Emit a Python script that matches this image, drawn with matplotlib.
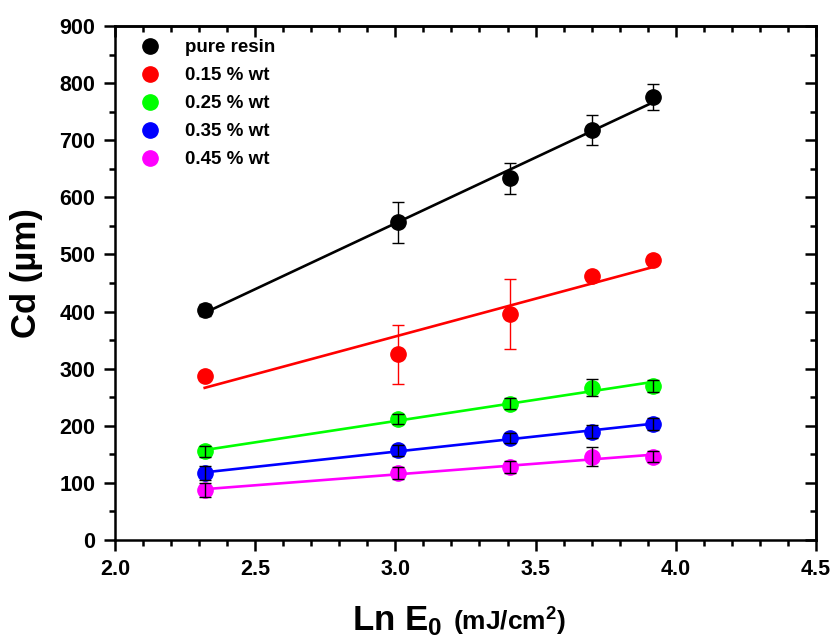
import numpy as np
import matplotlib.pyplot as plt
from matplotlib.ticker import MultipleLocator

############### DATA ###############
ln_e0 = [2.32, 3.01, 3.41, 3.70, 3.92]

labels = ['pure resin', '0.15 % wt', '0.25 % wt', '0.35 % wt', '0.45 % wt']
colors = ['black', 'red', '#00ff00', 'blue', 'magenta']
err_colors = ['black', 'red', 'black', 'black', 'black']

cd_pure = [403, 556, 633, 718, 776]
cd_015 = [288, 325, 396, 462, 491]
cd_025 = [155, 212, 239, 267, 270]
cd_035 = [117, 157, 179, 190, 203]
cd_045 = [88, 117, 128, 146, 146]

err_pure = [10, 36, 28, 26, 23]
err_015 = [6, 52, 61, 8, 8]
err_025 = [10, 9, 9, 15, 10]
err_035 = [12, 10, 9, 12, 11]
err_045 = [12, 10, 10, 16, 9]

series = [cd_pure, cd_015, cd_025, cd_035, cd_045]
errors = [err_pure, err_015, err_025, err_035, err_045]

############### PLOT ###############
plt.rcParams['font.family'] = ['Liberation Sans', 'DejaVu Sans']
plt.rcParams['font.weight'] = 'bold'
plt.rcParams['mathtext.fontset'] = 'custom'
plt.rcParams['mathtext.rm'] = 'Liberation Sans:bold'
plt.rcParams['mathtext.it'] = 'Liberation Sans:bold'
plt.rcParams['mathtext.bf'] = 'Liberation Sans:bold'

fig = plt.figure(figsize=(8.35, 6.39), dpi=100)
ax = fig.add_axes([0.1377, 0.1549, 0.8395, 0.8044])

x = np.array(ln_e0)
for y, e, c, ec, lab in zip(series, errors, colors, err_colors, labels):
    y = np.array(y, dtype=float)
    # linear fit through each series
    k, b = np.polyfit(x, y, 1)
    xf = np.array([x.min(), x.max()])
    ax.plot(xf, k * xf + b, color=c, lw=1.9, zorder=2)
    ax.plot(x, y, 'o', color=c, ms=11, label=lab, zorder=3)
    ax.errorbar(x, y, yerr=e, fmt='none', ecolor=ec, elinewidth=1.0,
                capsize=4, capthick=1.0, zorder=4)

ax.set_xlim(2.0, 4.5)
ax.set_ylim(0, 900)
ax.xaxis.set_major_locator(MultipleLocator(0.5))
ax.xaxis.set_minor_locator(MultipleLocator(0.1))
ax.yaxis.set_major_locator(MultipleLocator(100))
ax.yaxis.set_minor_locator(MultipleLocator(50))

for s in ax.spines.values():
    s.set_linewidth(1.8)

ax.tick_params(which='major', direction='out', length=8, width=1.8,
               labelsize=15.5, pad=6)
ax.tick_params(which='minor', direction='out', length=4, width=1.8)
# mirrored ticks on top/right point inward
axt = ax.secondary_xaxis('top')
axt.xaxis.set_major_locator(MultipleLocator(0.5))
axt.xaxis.set_minor_locator(MultipleLocator(0.1))
axt.tick_params(which='major', direction='in', length=8, width=1.8, labeltop=False)
axt.tick_params(which='minor', direction='in', length=4, width=1.8)
axr = ax.secondary_yaxis('right')
axr.yaxis.set_major_locator(MultipleLocator(100))
axr.yaxis.set_minor_locator(MultipleLocator(50))
axr.tick_params(which='major', direction='in', length=8, width=1.8, labelright=False)
axr.tick_params(which='minor', direction='in', length=4, width=1.8)
for sp in list(axt.spines.values()) + list(axr.spines.values()):
    sp.set_linewidth(1.8)

for lbl in ax.get_xticklabels() + ax.get_yticklabels():
    lbl.set_fontweight('bold')

ax.set_ylabel('Cd (\u00b5m)', fontsize=25, fontweight='bold')
ax.yaxis.set_label_coords(-0.102, 0.52)
fig.text(0.529, 0.013, r'Ln E$_0$', fontsize=25, fontweight='bold', ha='right')
fig.text(0.542, 0.013, r'(mJ/cm$^2$)', fontsize=19, fontweight='bold', ha='left')

leg = ax.legend(loc='upper left', bbox_to_anchor=(0.015, 1.0), frameon=False,
                fontsize=13.5, handletextpad=1.3, labelspacing=0.58,
                handlelength=1.2, markerscale=1.0, borderaxespad=0.3)
for t in leg.get_texts():
    t.set_fontweight('bold')

fig.savefig('out.png', dpi=100)
